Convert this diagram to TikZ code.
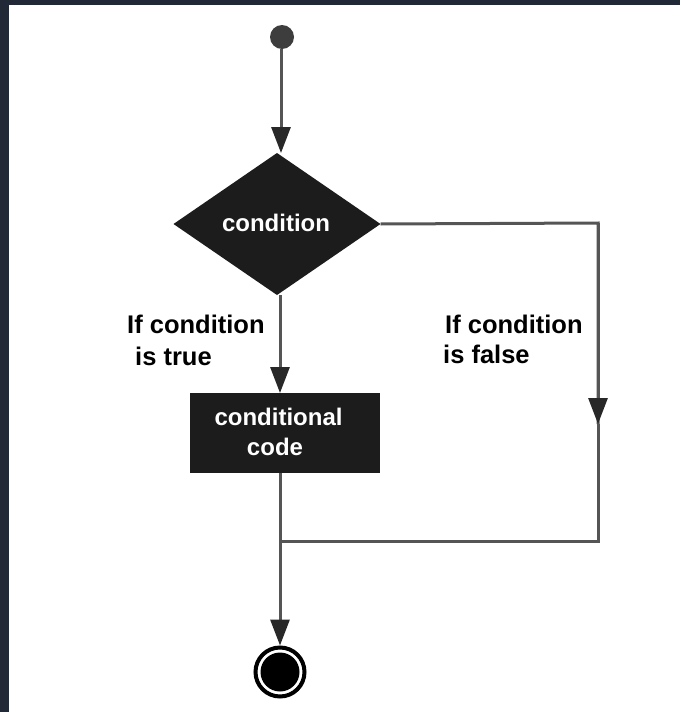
\documentclass[tikz,border=0pt]{standalone}
\usepackage{fontspec}
\setmainfont{Liberation Sans}
\usetikzlibrary{shapes.geometric,arrows.meta}
\definecolor{framec}{RGB}{34,41,54}
\definecolor{linec}{RGB}{85,85,85}
\definecolor{tipc}{RGB}{40,40,40}
\definecolor{shapec}{RGB}{28,28,28}
\begin{document}
\begin{tikzpicture}[x=1pt,y=-1pt,
  conn/.style={draw=linec,line width=3pt},
  arr/.style={conn,-{Triangle[width=19pt,length=26pt,color=tipc]}},
  inner/.style={font=\bfseries\fontsize{24}{28}\selectfont,text=white,inner sep=0pt},
  lbl/.style={font=\bfseries\fontsize{25.5}{28}\selectfont,text=black,inner sep=0pt}]
\useasboundingbox (0,0) rectangle (680,712);
\fill[white] (0,0) rectangle (680,712);
\fill[framec] (0,0) rectangle (680,5);
\fill[framec] (0,0) rectangle (9,712);
% start
\node[circle,fill=tipc!90!white,minimum size=24pt,inner sep=0pt,outer sep=0pt] (start) at (282,37) {};
% decision
\node[diamond,fill=shapec,minimum width=207pt,minimum height=142pt,shape aspect=1.458,inner sep=0pt,outer sep=0pt] (cond) at (277,224) {};
\node[inner,anchor=base] (condt) at (276,231) {condition};
% box
\node[rectangle,fill=shapec,minimum width=190pt,minimum height=80pt,inner sep=0pt,outer sep=0pt] (code) at (285,433) {};
\node[inner,anchor=base] (codet1) at (278.5,425) {conditional};
\node[inner,anchor=base] (codet2) at (275,455) {code};
% end
\node[circle,draw=black,line width=4pt,fill=white,minimum size=49pt,inner sep=0pt,outer sep=2pt] (end) at (280,672) {};
\node[circle,fill=black,minimum size=39pt,inner sep=0pt] (endin) at (end) {};
% coordinates
\coordinate (c1) at (598,223);
\coordinate (ah) at (598,424);
\coordinate (c2) at (598,541);
\coordinate (j) at (280,541);
\coordinate (ctop) at (281,153);
\coordinate (cbot) at (280,295);
\coordinate (btop) at (280,393);
\coordinate (bbot) at (280,473);
% connectors
\draw[arr] (start.south -| ctop) -- (ctop);
\draw[arr] (cbot) -- (btop);
\draw[conn] (cond.east) -- (c1) -- (ah);
\draw[arr] (c1) -- (ah);
\draw[conn] (ah) -- (c2) -- (j);
\draw[arr] (bbot) -- (end.north);
% labels
\node[lbl,anchor=base west] (lt1) at (127,333) {If condition};
\node[lbl,anchor=base west] (lt2) at (135,365) {is true};
\node[lbl,anchor=base west] (rf1) at (445,333) {If condition};
\node[lbl,anchor=base west] (rf2) at (443,363) {is false};
\end{tikzpicture}
\end{document}
